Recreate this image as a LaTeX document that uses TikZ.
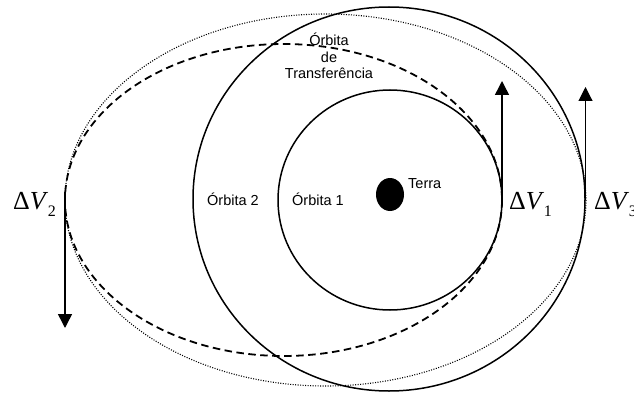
\documentclass[tikz,border=0pt]{standalone}
\usepackage{fontspec}
\setmainfont{Liberation Sans}
\newfontfamily\dvserif{Liberation Serif}
\usetikzlibrary{arrows.meta,shapes.geometric}
\newcommand{\dvlabel}[1]{{\dvserif\fontsize{26}{26}\selectfont Δ\textit{V}\kern-0.5pt\raisebox{-7.5pt}{\fontsize{16}{16}\selectfont #1}}}
\tikzset{
  orbitline/.style={line width=1.5pt},
  transline/.style={line width=1.8pt, dash pattern=on 7.5pt off 4.5pt},
  dotline/.style={line width=1.1pt, dash pattern=on 1pt off 1.5pt},
  vec/.style={line width=1.5pt, -{Triangle[length=14pt,width=14pt]}},
  lbl/.style={inner sep=0pt, font=\fontsize{14.5}{17}\selectfont},
  dvl/.style={inner sep=0pt, anchor=base west}
}
\begin{document}
\begin{tikzpicture}[x=1pt,y=-1pt]
\useasboundingbox (0,0) rectangle (634,393);
\clip (0,0) rectangle (634,393);
% orbits
\draw[dotline] (325.5,200) ellipse [x radius=260.5, y radius=186];
\draw[transline] (283.5,200) ellipse [x radius=218.5, y radius=156];
\draw[orbitline] (389,199) ellipse [x radius=196, y radius=192];
\draw[orbitline] (390,200) ellipse [x radius=112, y radius=110];
% Earth
\node[ellipse, fill=black, inner sep=0pt, minimum width=28pt, minimum height=33pt] (terra) at (390,194.5) {};
% labels
\node[lbl, anchor=base west] (terralbl) at (408,188) {Terra};
\node[lbl, anchor=base west] (orb2) at (207,205) {Órbita 2};
\node[lbl, anchor=base west] (orb1) at (292,205) {Órbita 1};
\node[lbl, anchor=base] (tr1) at (329,46) {Órbita};
\node[lbl, anchor=base] (tr2) at (329,63) {de};
\node[lbl, anchor=base] (tr3) at (329,79) {Transferência};
% velocity changes
\coordinate (t1) at (502,200);
\coordinate (h1) at (502,81);
\coordinate (t3) at (585.5,200);
\coordinate (h3) at (585.5,87);
\coordinate (t2) at (65,192);
\coordinate (h2) at (65,328);
\draw[vec] (t1) -- (h1);
\draw[vec, line width=1.1pt] (t3) -- (h3);
\draw[vec] (t2) -- (h2);
\node[dvl] (dv2) at (13,209) {\dvlabel{2}};
\node[dvl] (dv1) at (509,209) {\dvlabel{1}};
\node[dvl] (dv3) at (594,209) {\dvlabel{3}};
\end{tikzpicture}
\end{document}
